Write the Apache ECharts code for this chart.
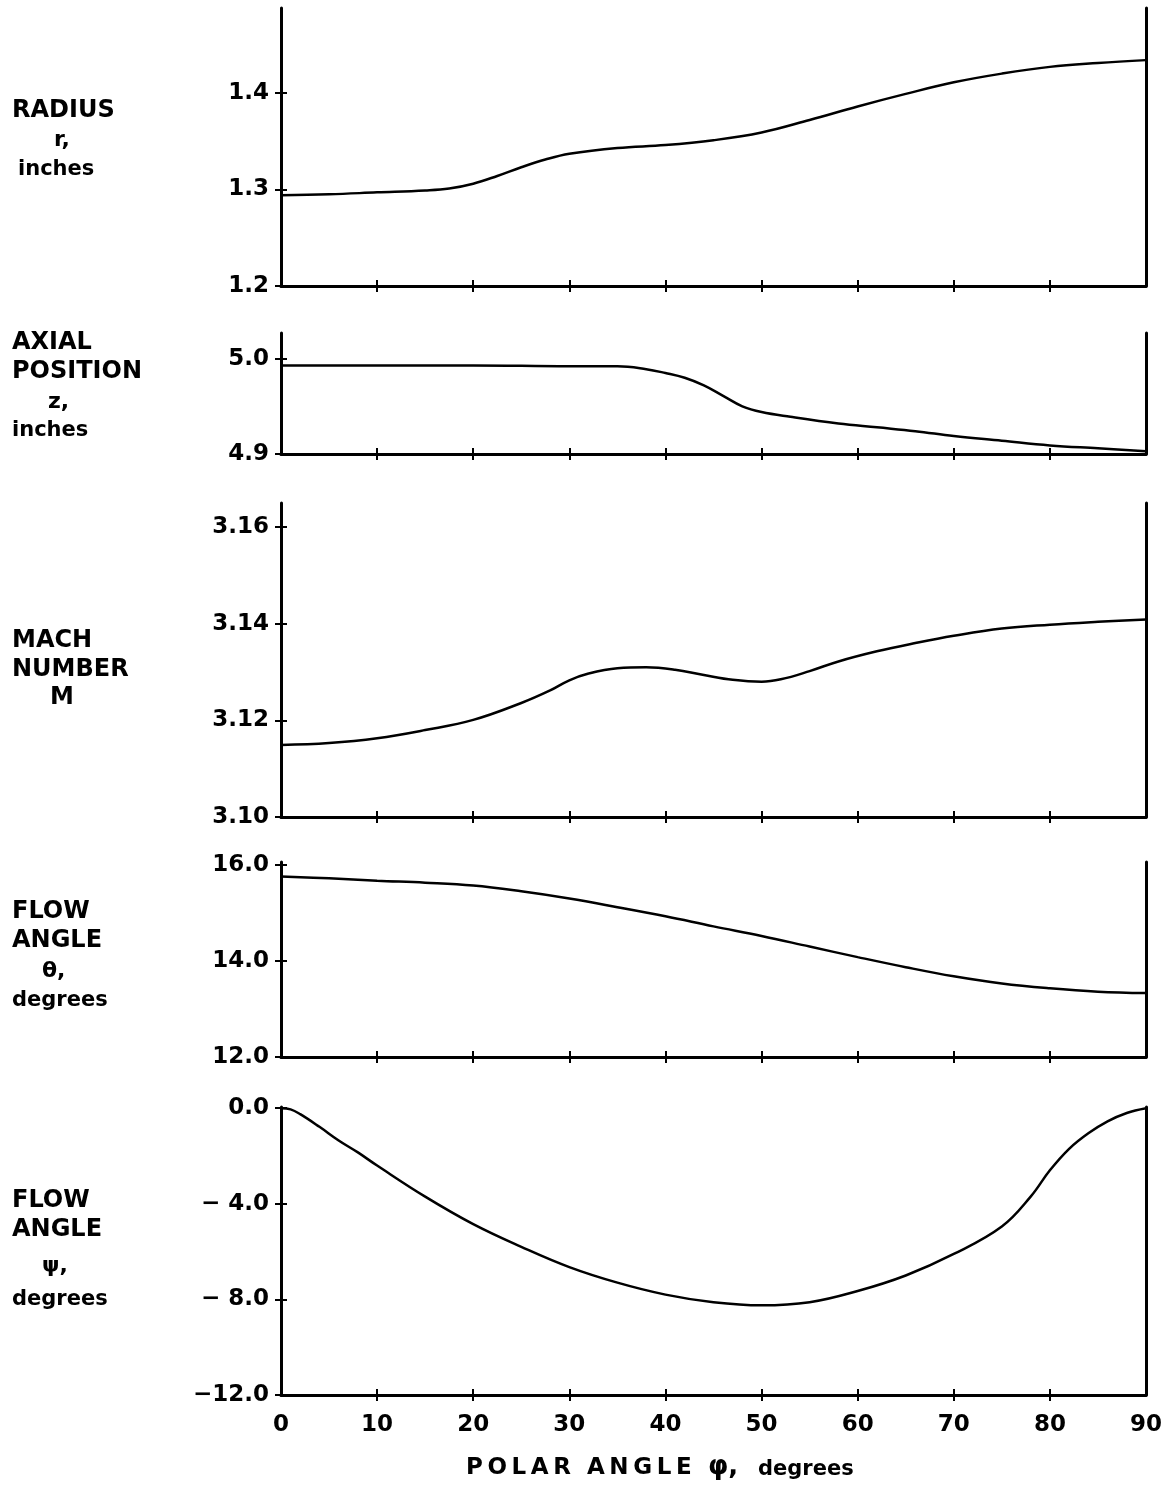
<!DOCTYPE html>
<html>
<head>
<meta charset="utf-8">
<script src="https://cdn.jsdelivr.net/npm/echarts@6/dist/echarts.min.js"></script>
<style>
  html, body { margin: 0; background: #fff; }
  #main { width: 1171px; height: 1490px; }
</style>
</head>
<body>
<div id="main"></div>
<script>
// x: polar angle phi, degrees
var xTicks = [0, 10, 20, 30, 40, 50, 60, 70, 80, 90];

// radius r, inches
var radiusPhi = [0, 5, 10, 15, 17.5, 20, 22.5, 25, 27.5, 30, 35, 40, 45, 50, 55, 60, 65, 70, 75, 80, 85, 90];
var radiusVal = [1.294, 1.295, 1.297, 1.299, 1.301, 1.306, 1.314, 1.323, 1.331, 1.337, 1.343, 1.346, 1.351, 1.359, 1.372, 1.386, 1.399, 1.411, 1.420, 1.427, 1.431, 1.434];
var radiusTicks = [1.2, 1.3, 1.4];

// axial position z, inches
var axialPhi = [0, 10, 20, 30, 35, 38, 40, 42, 44, 46, 48, 50, 53, 58, 62, 66, 70, 75, 80, 85, 90];
var axialVal = [4.993, 4.993, 4.993, 4.992, 4.992, 4.989, 4.985, 4.980, 4.972, 4.961, 4.950, 4.944, 4.939, 4.932, 4.928, 4.924, 4.919, 4.914, 4.909, 4.906, 4.903];
var axialTicks = [4.9, 5.0];

// mach number M
var machPhi = [0, 5, 10, 15, 20, 25, 28, 30, 32, 35, 38, 41, 44, 47, 50, 52, 55, 58, 62, 66, 70, 75, 80, 85, 90];
var machVal = [3.1149, 3.1153, 3.1163, 3.1180, 3.1201, 3.1236, 3.1262, 3.1283, 3.1297, 3.1308, 3.1310, 3.1305, 3.1294, 3.1284, 3.1280, 3.1285, 3.1302, 3.1322, 3.1343, 3.1360, 3.1375, 3.1390, 3.1398, 3.1404, 3.1409];
var machTicks = [3.10, 3.12, 3.14, 3.16];

// flow angle theta, degrees
var thetaPhi = [0, 5, 10, 15, 20, 25, 30, 35, 40, 45, 50, 55, 60, 65, 70, 75, 80, 85, 90];
var thetaVal = [15.76, 15.72, 15.67, 15.63, 15.57, 15.45, 15.30, 15.12, 14.93, 14.72, 14.52, 14.30, 14.08, 13.87, 13.68, 13.53, 13.43, 13.36, 13.33];
var thetaTicks = [12, 14, 16];

// flow angle psi, degrees
var psiPhi = [0, 1, 2, 4, 6, 8, 10, 15, 20, 25, 30, 35, 40, 45, 50, 55, 60, 65, 70, 75, 78, 80, 82, 84, 86, 88, 90];
var psiVal = [0, -0.05, -0.25, -0.78, -1.35, -1.85, -2.4, -3.7, -4.85, -5.8, -6.65, -7.3, -7.8, -8.12, -8.25, -8.12, -7.65, -7.0, -6.1, -4.95, -3.7, -2.6, -1.7, -1.05, -0.55, -0.2, 0];
var psiTicks = [-12, -8, -4, 0];
var psiTickLabels = ['\u221212.0', '\u2212 8.0', '\u2212 4.0', '0.0'];

function zip(xs, ys) {
  return xs.map(function (x, i) { return [x, ys[i]]; });
}

var panels = [
  { top: 8, height: 278, min: 1.2, max: 1.488, ticks: radiusTicks, fmt: function (v) { return v.toFixed(1); }, data: zip(radiusPhi, radiusVal) },
  { top: 333, height: 121, min: 4.9, max: 5.027, ticks: axialTicks, fmt: function (v) { return v.toFixed(1); }, data: zip(axialPhi, axialVal) },
  { top: 503, height: 314, min: 3.10, max: 3.165, ticks: machTicks, fmt: function (v) { return v.toFixed(2); }, data: zip(machPhi, machVal) },
  { top: 862, height: 195, min: 12, max: 16.06, ticks: thetaTicks, fmt: function (v) { return v.toFixed(1); }, data: zip(thetaPhi, thetaVal) },
  { top: 1107, height: 288, min: -12, max: 0.05, ticks: psiTicks, fmt: function (v) { return psiTickLabels[psiTicks.indexOf(Math.round(v))]; }, data: zip(psiPhi, psiVal) }
];

var FONT = '"DejaVu Sans", sans-serif';
var inner = xTicks.slice(1, xTicks.length - 1);
var grids = [], xAxes = [], yAxes = [], series = [];

panels.forEach(function (p, i) {
  var last = i === panels.length - 1;
  grids.push({ left: 281, top: p.top, width: 865, height: p.height, containLabel: false, outerBoundsMode: 'none' });

  // bottom axis, ticks outside
  xAxes.push({
    gridIndex: i, type: 'value', position: 'bottom', min: 0, max: 90, interval: 10,
    axisLine: { onZero: false, lineStyle: { color: '#000', width: 3 } },
    axisTick: { show: true, length: 6, lineStyle: { color: '#000', width: 2 }, customValues: inner },
    axisLabel: last ? { show: true, color: '#000', fontFamily: FONT, fontWeight: 'bold', fontSize: 23, margin: 19, customValues: xTicks } : { show: false },
    splitLine: { show: false }
  });
  // same axis, ticks inside (cross ticks)
  xAxes.push({
    gridIndex: i, type: 'value', position: 'bottom', min: 0, max: 90, interval: 10,
    axisLine: { show: false, onZero: false },
    axisTick: { show: true, inside: true, length: 6, lineStyle: { color: '#000', width: 2 }, customValues: inner },
    axisLabel: { show: false }, splitLine: { show: false }
  });

  yAxes.push({
    gridIndex: i, type: 'value', position: 'left', min: p.min, max: p.max,
    axisLine: { show: true, onZero: false, lineStyle: { color: '#000', width: 3 } },
    axisTick: { show: true, length: 6, lineStyle: { color: '#000', width: 2 }, customValues: p.ticks },
    axisLabel: { show: true, color: '#000', fontFamily: FONT, fontWeight: 'bold', fontSize: 23, margin: 12, customValues: p.ticks, formatter: p.fmt },
    splitLine: { show: false }
  });
  yAxes.push({
    gridIndex: i, type: 'value', position: 'left', min: p.min, max: p.max,
    axisLine: { show: false, onZero: false },
    axisTick: { show: true, inside: true, length: 6, lineStyle: { color: '#000', width: 2 }, customValues: p.ticks },
    axisLabel: { show: false }, splitLine: { show: false }
  });
  // right border line at phi = 90
  yAxes.push({
    gridIndex: i, type: 'value', position: 'right', min: p.min, max: p.max,
    axisLine: { show: true, onZero: false, lineStyle: { color: '#000', width: 3 } },
    axisTick: { show: false }, axisLabel: { show: false }, splitLine: { show: false }
  });

  series.push({
    type: 'line', xAxisIndex: 2 * i, yAxisIndex: 3 * i,
    data: p.data, showSymbol: false, symbol: 'none',
    smooth: 0.4,
    lineStyle: { color: '#000', width: 2.5 }
  });
});

function label(text, x, y, size) {
  return {
    type: 'text', left: x, top: y - size * 0.6,
    style: { text: text, fill: '#000', font: 'bold ' + size + 'px ' + FONT }
  };
}

var T = '\u2009';
var graphics = [
  label('RADIUS', 12, 113, 24), label('r,', 54, 142, 22), label('inches', 18, 172, 21),
  label('AXIAL', 12, 345, 24), label('POSITION', 12, 374, 24), label('z,', 48, 404, 22), label('inches', 12, 433, 21),
  label('MACH', 12, 643, 24), label('NUMBER', 12, 672, 24), label('M', 50, 700, 24),
  label('FLOW', 12, 914, 24), label('ANGLE', 12, 943, 24), label('\u03b8,', 42, 973, 22), label('degrees', 12, 1003, 21),
  label('FLOW', 12, 1203, 24), label('ANGLE', 12, 1232, 24), label('\u03c8,', 42, 1268, 22), label('degrees', 12, 1302, 21),
  label(['P', 'O', 'L', 'A', 'R'].join(T) + '  ' + ['A', 'N', 'G', 'L', 'E'].join(T), 466, 1470, 23),
  label('\u03c6,', 708, 1470, 26), label('degrees', 758, 1472, 21)
];

var chart = echarts.init(document.getElementById('main'));
chart.setOption({
  animation: false,
  backgroundColor: '#fff',
  grid: grids,
  xAxis: xAxes,
  yAxis: yAxes,
  series: series,
  graphic: graphics
});
</script>
</body>
</html>
